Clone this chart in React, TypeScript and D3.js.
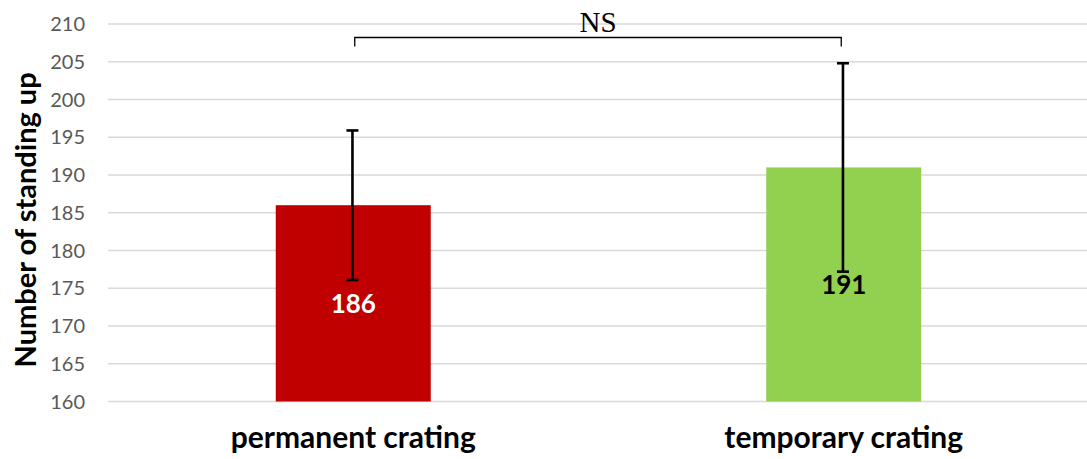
import React from "react";
import * as d3 from "d3";

// Mean number of standing-up events per housing group, with error margins
const categories: string[] = ["permanent crating", "temporary crating"];
const means: number[] = [186, 191];
const errors: number[] = [9.9, 13.8];
const barColors: string[] = ["#C00000", "#92D050"];
const labelColors: string[] = ["#FFFFFF", "#000000"];
const yTicks: number[] = [160, 165, 170, 175, 180, 185, 190, 195, 200, 205, 210];
const yTitle = "Number of standing up";
const significanceLabel = "NS";

const W = 1087;
const H = 459;
const plotLeft = 108;
const plotRight = 1089;
const plotTop = 24;
const plotBottom = 401.5;

export default function App() {
  const y = d3.scaleLinear().domain([160, 210]).range([plotBottom, plotTop]);
  const x = d3
    .scaleBand<string>()
    .domain(categories)
    .range([plotLeft, plotRight])
    .paddingInner(0.684)
    .paddingOuter(0.342);

  const bw = x.bandwidth();
  const cx = (c: string) => (x(c) as number) + bw / 2;
  const font = "Lato, 'Open Sans', sans-serif";

  const bx1 = cx(categories[0]) + 1.5;
  const bx2 = cx(categories[1]) - 2.5;
  const bracketY = 37.5;
  const bracketDrop = 9;

  return (
    <svg
      width={W}
      height={H}
      style={{ position: "fixed", left: 0, top: 0, background: "#fff" }}
    >
      {/* gridlines and tick labels */}
      {yTicks.map((t) => (
        <g key={t}>
          <line
            x1={plotLeft}
            x2={W}
            y1={y(t)}
            y2={y(t)}
            stroke="#d9d9d9"
            strokeWidth={1.5}
          />
          <text
            x={85}
            y={y(t)}
            dy="0.36em"
            textAnchor="end"
            fontFamily={font}
            fontSize={20}
            fill="#595959"
          >
            {t}
          </text>
        </g>
      ))}

      {/* bars */}
      {categories.map((c, i) => (
        <rect
          key={c}
          x={x(c)}
          y={y(means[i])}
          width={bw}
          height={plotBottom - y(means[i])}
          fill={barColors[i]}
        />
      ))}

      {/* value labels centred in bars */}
      {categories.map((c, i) => (
        <text
          key={c + "-v"}
          x={cx(c)}
          y={(y(means[i]) + plotBottom) / 2}
          dy="0.36em"
          textAnchor="middle"
          fontFamily={font}
          fontWeight="bold"
          fontSize={26}
          fill={labelColors[i]}
        >
          {means[i]}
        </text>
      ))}

      {/* error bars */}
      {categories.map((c, i) => {
        const x0 = cx(c) - 0.8;
        const top = y(means[i] + errors[i]);
        const bot = y(means[i] - errors[i]);
        return (
          <g key={c + "-e"} stroke="#000" strokeWidth={2.6}>
            <line x1={x0} x2={x0} y1={top} y2={bot} />
            <line x1={x0 - 6} x2={x0 + 6} y1={top} y2={top} />
            <line x1={x0 - 6} x2={x0 + 6} y1={bot} y2={bot} />
          </g>
        );
      })}

      {/* significance bracket */}
      <path
        d={`M${bx1},${bracketY + bracketDrop}V${bracketY}H${bx2}V${bracketY + bracketDrop}`}
        fill="none"
        stroke="#000"
        strokeWidth={1.3}
      />
      <text
        x={(bx1 + bx2) / 2}
        y={31.7}
        textAnchor="middle"
        fontFamily="'Liberation Serif', 'DejaVu Serif', serif"
        fontSize={29}
        fill="#000"
      >
        {significanceLabel}
      </text>

      {/* category labels */}
      {categories.map((c) => (
        <text
          key={c + "-l"}
          x={cx(c)}
          y={448}
          textAnchor="middle"
          fontFamily={font}
          fontWeight="bold"
          fontSize={30}
          fill="#000"
        >
          {c}
        </text>
      ))}

      {/* y axis title */}
      <text
        transform={`translate(36,${(66.7 + 373) / 2}) rotate(-90)`}
        textAnchor="middle"
        fontFamily={font}
        fontWeight="bold"
        fontSize={29}
        fill="#000"
      >
        {yTitle}
      </text>
    </svg>
  );
}
